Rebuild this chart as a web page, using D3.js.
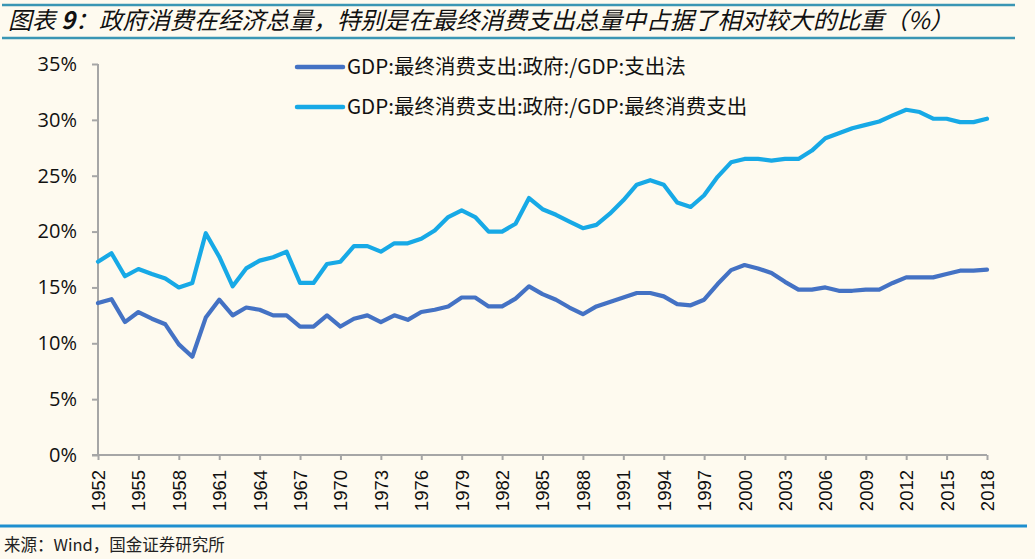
<!DOCTYPE html>
<html><head><meta charset="utf-8">
<script src="https://cdn.jsdelivr.net/npm/d3@7"></script>
<style>
html,body{margin:0;padding:0;background:#FEFAEF;}
svg{display:block;}
</style></head>
<body>
<svg id="chart" width="1035" height="559"></svg>
<script>
const titleParts = ["图表 ", "9", "：政府消费在经济总量，特别是在最终消费支出总量中占据了相对较大的比重（%）"];
const sourceText = "来源：Wind，国金证券研究所";
const seriesNames = ["GDP:最终消费支出:政府:/GDP:支出法", "GDP:最终消费支出:政府:/GDP:最终消费支出"];
const years = d3.range(1952, 2019);
const govShareGDP = [13.6,13.95,11.9,12.8,12.2,11.7,9.9,8.8,12.3,13.9,12.5,13.2,13.0,12.5,12.5,11.5,11.5,12.5,11.5,12.2,
  12.5,11.9,12.5,12.1,12.8,13.0,13.3,14.1,14.1,13.3,13.3,14.0,15.1,14.4,13.9,13.2,12.6,13.3,13.7,14.1,
  14.5,14.5,14.2,13.5,13.4,13.9,15.3,16.55,17.0,16.7,16.3,15.5,14.8,14.8,15.0,14.7,14.7,14.8,14.8,15.4,
  15.9,15.9,15.9,16.2,16.5,16.5,16.6];
const govShareConsumption = [17.3,18.06,16.0,16.65,16.2,15.8,15.0,15.4,19.85,17.75,15.1,16.7,17.4,17.7,18.2,15.4,15.4,17.1,17.3,18.7,
  18.7,18.2,18.95,18.95,19.35,20.1,21.3,21.9,21.3,20.0,20.0,20.7,23.0,22.0,21.5,20.9,20.3,20.6,21.6,22.8,
  24.2,24.6,24.2,22.6,22.2,23.25,24.9,26.2,26.5,26.5,26.35,26.5,26.5,27.25,28.35,28.8,29.25,29.55,29.85,30.4,
  30.9,30.7,30.1,30.1,29.8,29.8,30.1];
const yTicks = [0,5,10,15,20,25,30,35];
const xTickYears = d3.range(1952, 2019, 3);

const colors = ["#4472C4", "#17A9E6"];
const svg = d3.select("#chart");

// title band
svg.append("line").attr("x1",2).attr("x2",1015).attr("y1",5).attr("y2",5).attr("stroke","#3A96B4").attr("stroke-width",2.5);
svg.append("line").attr("x1",2).attr("x2",1015).attr("y1",38).attr("y2",38).attr("stroke","#3A96B4").attr("stroke-width",2.5);
const title = svg.append("text").attr("x",8).attr("y",29)
  .attr("font-family","'Noto Sans CJK SC', sans-serif").attr("font-size",23.8).attr("font-style","italic")
  .attr("fill","#111");
titleParts.forEach((t, i) => {
  title.append("tspan").text(t).attr("font-weight", i === 1 ? "bold" : "normal");
});

const x = d3.scalePoint().domain(years).range([98, 987]);
const y = d3.scaleLinear().domain([0, 35]).range([455, 64]);

// y axis
const yAxis = svg.append("g").attr("transform","translate(98,0)")
  .call(d3.axisLeft(y).tickValues(yTicks).tickSize(6).tickPadding(15).tickFormat(d => d + "%"));
yAxis.selectAll("path,line").attr("stroke","#A6A6A6").attr("stroke-width",2);
yAxis.select(".domain").attr("d","M0,64V455");
yAxis.selectAll("text").attr("font-family","'Open Sans', sans-serif").attr("font-size",20).attr("fill","#111");

// x axis
const xAxis = svg.append("g").attr("transform","translate(0,455)")
  .call(d3.axisBottom(x).tickValues(xTickYears).tickSize(5).tickPadding(0).tickSizeOuter(0));
xAxis.selectAll("path,line").attr("stroke","#A6A6A6").attr("stroke-width",2);
xAxis.select(".domain").attr("d","M92,0H987");
xAxis.selectAll("text")
  .attr("font-family","'Liberation Sans', Arial, sans-serif").attr("font-size",18.5).attr("fill","#111")
  .attr("text-anchor","end").attr("dy","0.35em").attr("y",0)
  .attr("transform","translate(0,15) rotate(-90)");

// lines
const lineGen = d3.line().x((d,i) => x(years[i])).y(d => y(d));
[govShareGDP, govShareConsumption].forEach((s, k) => {
  svg.append("path").datum(s).attr("d", lineGen).attr("fill","none")
    .attr("stroke", colors[k]).attr("stroke-width",4.2)
    .attr("stroke-linejoin","round").attr("stroke-linecap","round");
});

// legend
seriesNames.forEach((name, k) => {
  const ly = 67 + k * 40;
  svg.append("line").attr("x1",297).attr("x2",343).attr("y1",ly).attr("y2",ly)
    .attr("stroke",colors[k]).attr("stroke-width",4.5).attr("stroke-linecap","round");
  svg.append("text").attr("x",347).attr("y",ly).attr("dy","0.36em").text(name)
    .attr("font-family","'Noto Sans CJK SC', sans-serif").attr("font-size",20.5).attr("fill","#111");
});

// source
svg.append("line").attr("x1",0).attr("x2",1027).attr("y1",526).attr("y2",526).attr("stroke","#1E8FCF").attr("stroke-width",3);
svg.append("text").attr("x",4).attr("y",551).text(sourceText)
  .attr("font-family","'Noto Sans CJK SC', sans-serif").attr("font-size",16.5).attr("fill","#222");
</script>
</body></html>
